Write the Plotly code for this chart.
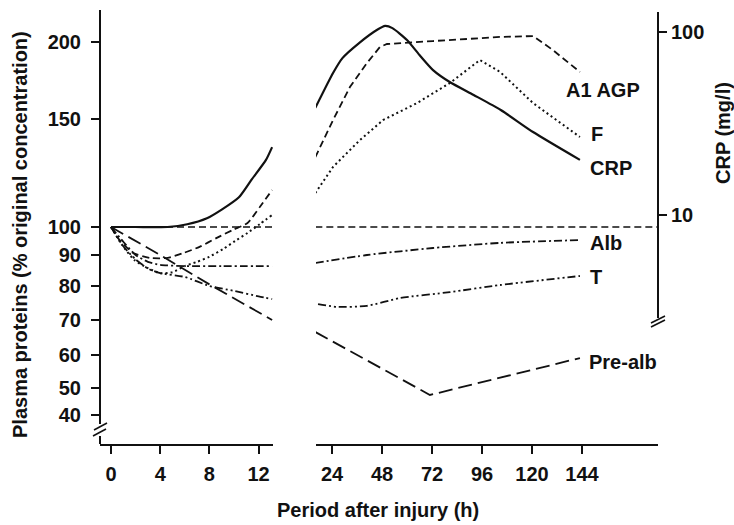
import numpy as np
import plotly.graph_objects as go

# ---------------- data ----------------
# Left axis tick values (% of original concentration)
Y_TICKS = [40, 50, 60, 70, 80, 90, 100, 150, 200]
X_TICKS_EARLY = [0, 4, 8, 12]
X_TICKS_LATE = [24, 48, 72, 96, 120, 144]
CRP_TICKS = [10, 100]

# CRP (mg/l, right log axis)
crp_early_h = [0, 2, 4.6, 6.2, 7.8, 9, 10.4, 11.4, 12.6, 13.1]
crp_early = [8.6, 8.6, 8.6, 8.9, 9.6, 10.7, 12.5, 15.5, 20.0, 23.5]
crp_late_h = [16, 24.5, 29, 37, 45.5, 49.5, 53, 60, 66, 72.5, 80.5, 92, 105, 120.5, 143]
crp_late = [38.5, 59.7, 72, 87, 102.5, 108, 105, 90.4, 74.8, 61.9, 53.3, 45.3, 37.5, 28.4, 20.0]

# A1 AGP (%)
agp_early_h = [0, 0.7, 1.8, 3.2, 4.6, 5.9, 7.2, 8.6, 9.9, 11.1, 12.1, 13.1]
agp_early = [100, 95.2, 90.7, 89, 89, 90.7, 92.8, 96, 98.9, 101.5, 107.8, 114.9]
agp_late_h = [16, 24.5, 32.6, 40.8, 47, 50.4, 72.5, 104.7, 120.5, 130, 143]
agp_late = [130, 149.4, 169, 184.9, 196.3, 198.5, 200.7, 203.8, 204.5, 194.1, 178.8]

# F (fibrinogen, %)
f_early_h = [0, 0.9, 1.9, 3, 4, 5, 6, 7, 8, 9.1, 10.1, 11.1, 12.1, 13.1]
f_early = [100, 93.5, 88.3, 85.6, 84.0, 84.3, 86.3, 87.7, 89.4, 92.0, 94.9, 97.8, 101.1, 104.6]
f_late_h = [16, 24.5, 37.4, 48.5, 64.8, 80.6, 95, 104.7, 120.5, 143]
f_late = [113.6, 125.3, 138.6, 149.4, 159.2, 171.6, 187, 178.8, 159.2, 140.2]

# Alb (%)
alb_early_h = [0, 1, 2, 3, 4, 6, 9, 13.1]
alb_early = [100, 94.6, 90, 87.7, 86.7, 86.3, 86.3, 86.3]
alb_late_h = [16, 40.8, 72.5, 104.7, 143]
alb_late = [87.3, 90, 92.4, 94.2, 95.2]

# T (transferrin, %)
t_early_h = [0, 1, 2, 3, 4, 6, 8, 10, 12, 13.1]
t_early = [100, 93, 88.5, 85.5, 84, 82.8, 80, 78.5, 76.8, 76]
t_late_h = [17.3, 26.4, 40.8, 56.6, 80.6, 104.7, 143]
t_late = [74.5, 73.7, 74.0, 76.3, 78.1, 80.3, 83.1]

# Pre-alb (%)
pre_early_h = [0, 4, 8, 13.1]
pre_early = [100, 90, 80.5, 70]
pre_late_h = [16, 71, 143]
pre_late = [66.4, 47.2, 59.0]

# 100 % reference
base_early_h = [0, 13.1]
base_late_h = [16, 180.4]
base_val = [100, 100]

# ---------------- figure geometry ----------------
W, H = 734, 525
ML, MR, MT, MB = 100, 76, 10, 81
PW, PH = W - ML - MR, H - MT - MB   # 558 x 434

def px_x(p):
    return (p - ML) / PW

def px_y(p):
    return (H - MB - p) / PH

# broken, hand-drawn percentage scale: positions of ticks in plot units
SCALE_U = [29, 56, 89, 124, 158, 189, 217, 325, 402]
LOGT = np.log(Y_TICKS)

def yscale(v):
    lv = np.log(np.asarray(v, dtype=float))
    out = np.interp(lv, LOGT, SCALE_U)
    slope = (SCALE_U[-1] - SCALE_U[-2]) / (LOGT[-1] - LOGT[-2])
    hi = lv > LOGT[-1]
    out = np.where(hi, SCALE_U[-1] + slope * (lv - LOGT[-1]), out)
    return out

FONT = "Liberation Sans, Arial, Helvetica, sans-serif"
INK = "#111111"
TXT = dict(family=FONT, size=20, color=INK, weight="bold")
TITLE = dict(family=FONT, size=20, color=INK, weight="bold")

fig = go.Figure()

def add(x, y, xa, ya, dash, width=1.8, shape="linear"):
    fig.add_trace(go.Scatter(
        x=x, y=y, xaxis=xa, yaxis=ya, mode="lines",
        line=dict(color=INK, width=width, dash=dash, shape=shape, smoothing=0.6),
        showlegend=False, hoverinfo="skip"))

SHORT = "7px,4px"
DOT = "2px,3px"
DASHDOT = "8px,3px,2px,3px"
DASHDOTDOT = "8px,3px,2px,3px,2px,3px"
LONG = "14px,6px"

# reference lines
add(base_early_h, yscale(base_val), "x", "y", SHORT, 1.5)
add(base_late_h, yscale(base_val), "x2", "y", SHORT, 1.5)

# CRP (log axis)
add(crp_early_h, crp_early, "x", "y2", "solid", 2.2, "spline")
add(crp_late_h, crp_late, "x2", "y2", "solid", 2.2, "spline")

# A1 AGP
add(agp_early_h, yscale(agp_early), "x", "y", SHORT, 1.8, "spline")
add(agp_late_h, yscale(agp_late), "x2", "y", SHORT, 1.8)

# F
add(f_early_h, yscale(f_early), "x", "y", DOT, 2.0, "spline")
add(f_late_h, yscale(f_late), "x2", "y", DOT, 2.0)

# Alb
add(alb_early_h, yscale(alb_early), "x", "y", DASHDOT, 1.8, "spline")
add(alb_late_h, yscale(alb_late), "x2", "y", DASHDOT, 1.8, "spline")

# T
add(t_early_h, yscale(t_early), "x", "y", DASHDOTDOT, 1.8, "spline")
add(t_late_h, yscale(t_late), "x2", "y", DASHDOTDOT, 1.8, "spline")

# Pre-alb
add(pre_early_h, yscale(pre_early), "x", "y", LONG, 1.8)
add(pre_late_h, yscale(pre_late), "x2", "y", LONG, 1.8)

# ---------------- axes ----------------
x1_end = 273
x2_start = 316
sx1, x1_0 = 12.3, 111      # px per hour, pixel of 0 h
sx2, x2_24 = 250 / 120, 332

axis_common = dict(showgrid=False, zeroline=False, ticks="outside", ticklen=8,
                   tickwidth=1.6, tickcolor=INK, showline=True, linewidth=2,
                   linecolor=INK, tickfont=TXT, ticklabelstandoff=3)

fig.update_layout(
    xaxis=dict(domain=[0, px_x(x1_end)],
               range=[(ML - x1_0) / sx1, (x1_end - x1_0) / sx1],
               tickvals=X_TICKS_EARLY, anchor="y", **axis_common),
    xaxis2=dict(domain=[px_x(x2_start), 1],
                range=[24 + (x2_start - x2_24) / sx2, 24 + (W - MR - x2_24) / sx2],
                tickvals=X_TICKS_LATE, anchor="y", **axis_common),
    yaxis=dict(domain=[0, 1], range=[0, PH], anchor="x",
               tickvals=list(yscale(Y_TICKS)), ticktext=[str(t) for t in Y_TICKS],
               showgrid=False, zeroline=False, ticks="outside", ticklen=8,
               tickwidth=1.6, tickcolor=INK, showline=False, tickfont=TXT,
               ticklabelstandoff=6),
    yaxis2=dict(type="log", overlaying="y", side="right", anchor="free", position=1,
                range=[1 - (H - MB - 215) / 183, 1 + (215 - MT) / 183],
                tickvals=CRP_TICKS, ticktext=[str(t) for t in CRP_TICKS],
                showgrid=False, zeroline=False, ticks="outside", ticklen=8,
                tickwidth=1.6, tickcolor=INK, showline=False, tickfont=TXT),
    width=W, height=H,
    margin=dict(l=ML, r=MR, t=MT, b=MB),
    paper_bgcolor="white", plot_bgcolor="white",
    font=TXT,
)

# axis lines with breaks
def seg(x0, y0, x1, y1, w=2):
    fig.add_shape(type="line", xref="paper", yref="paper",
                  x0=px_x(x0), y0=px_y(y0), x1=px_x(x1), y1=px_y(y1),
                  line=dict(color=INK, width=w))

seg(100, 10, 100, 424)
seg(94, 430, 107, 423, 1.6)
seg(93, 436, 106, 429, 1.6)
seg(100, 436, 100, 444)
seg(658, 12, 658, 318)
seg(651, 323, 665, 316, 1.6)
seg(651, 327, 665, 320, 1.6)

# ---------------- text ----------------
def lab_x(p):
    return 24 + (p - x2_24) / sx2

labels = [("A1 AGP", 564, 167), ("F", 589, 142), ("CRP", 588, 125),
          ("Alb", 588, 94.2), ("T", 588, 82.8), ("Pre-alb", 587, 57.7)]
for txt, xp, val in labels:
    fig.add_annotation(text=txt, x=lab_x(xp), y=float(yscale([val])[0]),
                       xref="x2", yref="y", xanchor="left", yanchor="middle",
                       showarrow=False, font=TXT)

fig.add_annotation(text="Plasma proteins (% original concentration)", textangle=-90,
                   x=px_x(20), y=px_y(235), xref="paper", yref="paper",
                   xanchor="center", yanchor="middle", showarrow=False, font=TITLE)
fig.add_annotation(text="Period after injury (h)",
                   x=px_x(378), y=px_y(510), xref="paper", yref="paper",
                   xanchor="center", yanchor="middle", showarrow=False, font=TITLE)
fig.add_annotation(text="CRP (mg/l)", textangle=-90,
                   x=px_x(723), y=px_y(133), xref="paper", yref="paper",
                   xanchor="center", yanchor="middle", showarrow=False, font=TITLE)

fig.write_html("out.html", config={"displayModeBar": False},
               post_script="document.body.style.margin='0';")
